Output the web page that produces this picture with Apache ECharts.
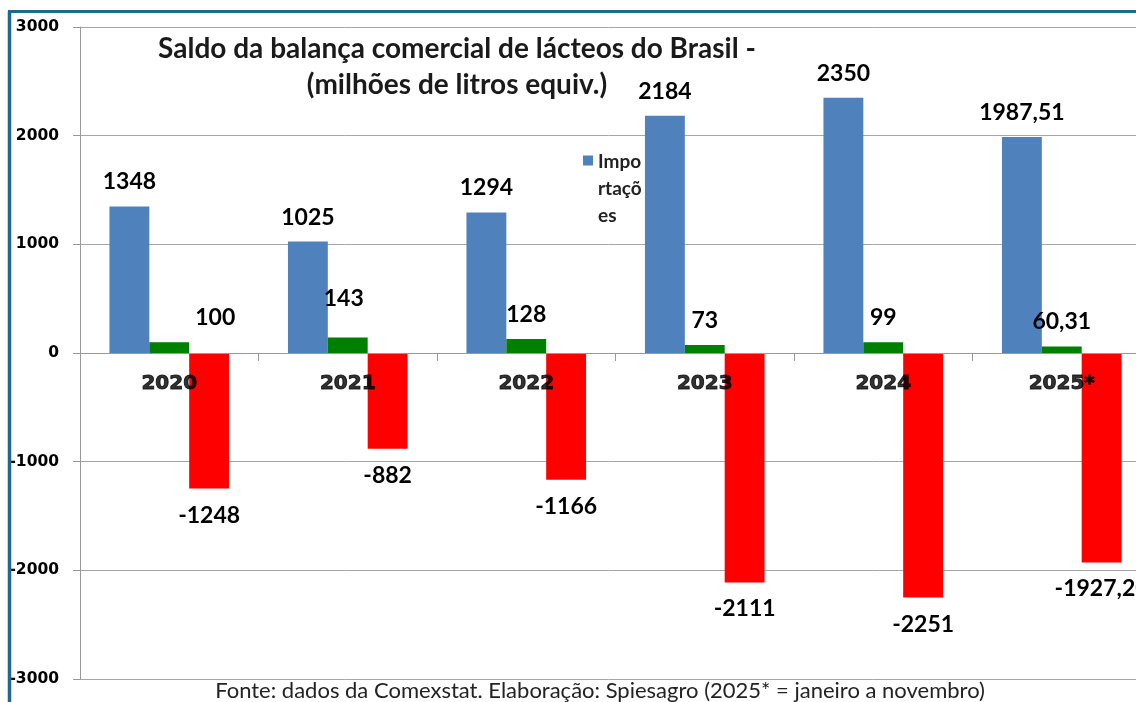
<!DOCTYPE html>
<html>
<head>
<meta charset="utf-8">
<script src="https://cdn.jsdelivr.net/npm/echarts@6/dist/echarts.min.js"></script>
<style>html,body{margin:0;padding:0;background:#fff;}#c{width:1136px;height:702px;}</style>
</head>
<body>
<div id="c"></div>
<script>
var categories = ['2020', '2021', '2022', '2023', '2024', '2025*'];
var importacoes = [1348, 1025, 1294, 2184, 2350, 1987.51];
var exportacoes = [100, 143, 128, 73, 99, 60.31];
var saldo = [-1248, -882, -1166, -2111, -2251, -1927.20];
var yTicks = [-3000, -2000, -1000, 0, 1000, 2000, 3000];

function fmt(v) {
  if (Math.round(v) === v) return String(v);
  return v.toFixed(2).replace('.', ',');
}

var labelFont = { fontFamily: 'Lato', fontWeight: 'bold', fontSize: 23, color: '#000' };

var chart = echarts.init(document.getElementById('c'), null, { renderer: 'canvas' });

var greenData = exportacoes.map(function (v, i) {
  var d = { value: v };
  if (i === 0) d.label = { offset: [46, 0] };
  if (i === 1) d.label = { offset: [-4, -14] };
  return d;
});

var catLabelData = categories.map(function (c) { return [c, 0]; });

chart.setOption({
  backgroundColor: '#fff',
  animation: false,
  title: [
    {
      text: 'Saldo da balança comercial de lácteos do Brasil -\n(milhões de litros equiv.)',
      left: 452, top: 26, textAlign: 'center',
      textStyle: { fontFamily: 'Lato', fontWeight: 'bold', fontSize: 28, lineHeight: 36, color: '#1a1a1a' }
    },
    {
      text: 'Fonte: dados da Comexstat. Elaboração: Spiesagro (2025* = janeiro a novembro)',
      left: 595, top: 675, textAlign: 'center',
      textStyle: { fontFamily: 'Lato', fontWeight: 'normal', fontSize: 22, color: '#222' }
    }
  ],
  legend: {
    data: ['Importações'],
    left: 578, top: 143,
    orient: 'vertical',
    z: 1,
    itemWidth: 10, itemHeight: 66,
    icon: 'path://M0,0L10,0L10,10L0,10Z M0,66L0.01,66',
    itemGap: 5,
    formatter: function () { return 'Impo\nrtaçõ\nes'; },
    textStyle: { fontFamily: 'Lato', fontWeight: 'bold', fontSize: 19, lineHeight: 27, color: '#222' }
  },
  grid: { left: 80, right: -15, top: 27, bottom: 23, outerBoundsMode: 'none', containLabel: false },
  xAxis: {
    type: 'category',
    data: categories,
    z: 3,
    axisLine: { onZero: true, lineStyle: { color: '#999', width: 1 } },
    axisTick: { show: true, length: 8, lineStyle: { color: '#999' } },
    axisLabel: { show: false },
    splitLine: { show: false }
  },
  yAxis: {
    type: 'value',
    min: yTicks[0], max: yTicks[yTicks.length - 1], interval: 1000,
    axisLine: { show: true, lineStyle: { color: '#999', width: 1 } },
    axisTick: { show: true, length: 7, lineStyle: { color: '#999' } },
    axisLabel: { margin: 21, fontFamily: 'DejaVu Sans', fontWeight: 'bold', fontSize: 15.5, color: '#000',
      formatter: function (v) { return String(v); } },
    splitLine: { show: true, lineStyle: { color: '#a6a6a6', width: 1 } }
  },
  series: [
    {
      name: 'Importações', type: 'bar', data: importacoes, z: 2,
      barGap: '0%', barCategoryGap: '33%',
      itemStyle: { color: '#4f81bd' },
      label: Object.assign({ show: true, position: 'top', distance: 13, formatter: function (p) { return fmt(p.value); } }, labelFont)
    },
    {
      name: 'Exportações', type: 'bar', data: greenData, z: 2,
      barGap: '0%', barCategoryGap: '33%',
      itemStyle: { color: '#008000' },
      label: Object.assign({ show: true, position: 'top', distance: 13, formatter: function (p) { return fmt(p.value); } }, labelFont)
    },
    {
      name: 'Saldo', type: 'bar', data: saldo, z: 2,
      barGap: '0%', barCategoryGap: '33%',
      itemStyle: { color: '#ff0000' },
      label: Object.assign({ show: true, position: 'bottom', distance: 15, formatter: function (p) { return fmt(p.value); } }, labelFont)
    },
    {
      name: 'Anos', type: 'scatter', data: catLabelData, z: 4,
      symbol: 'circle', symbolSize: 1,
      itemStyle: { color: 'rgba(0,0,0,0)' },
      silent: true,
      label: { show: true, position: 'bottom', distance: 20, formatter: function (p) { return p.name; },
        fontFamily: 'DejaVu Sans', fontWeight: 'bold', fontSize: 20, color: '#000',
        textBorderColor: '#000', textBorderWidth: 1 }
    }
  ],
  graphic: [
    { type: 'line', shape: { x1: 9.5, y1: 11.5, x2: 9.5, y2: 720 }, style: { stroke: '#21688f', lineWidth: 3.5 }, z: 10 },
    { type: 'line', shape: { x1: 8, y1: 11.5, x2: 1140, y2: 11.5 }, style: { stroke: '#21688f', lineWidth: 3 }, z: 10 }
  ]
});
</script>
</body>
</html>
